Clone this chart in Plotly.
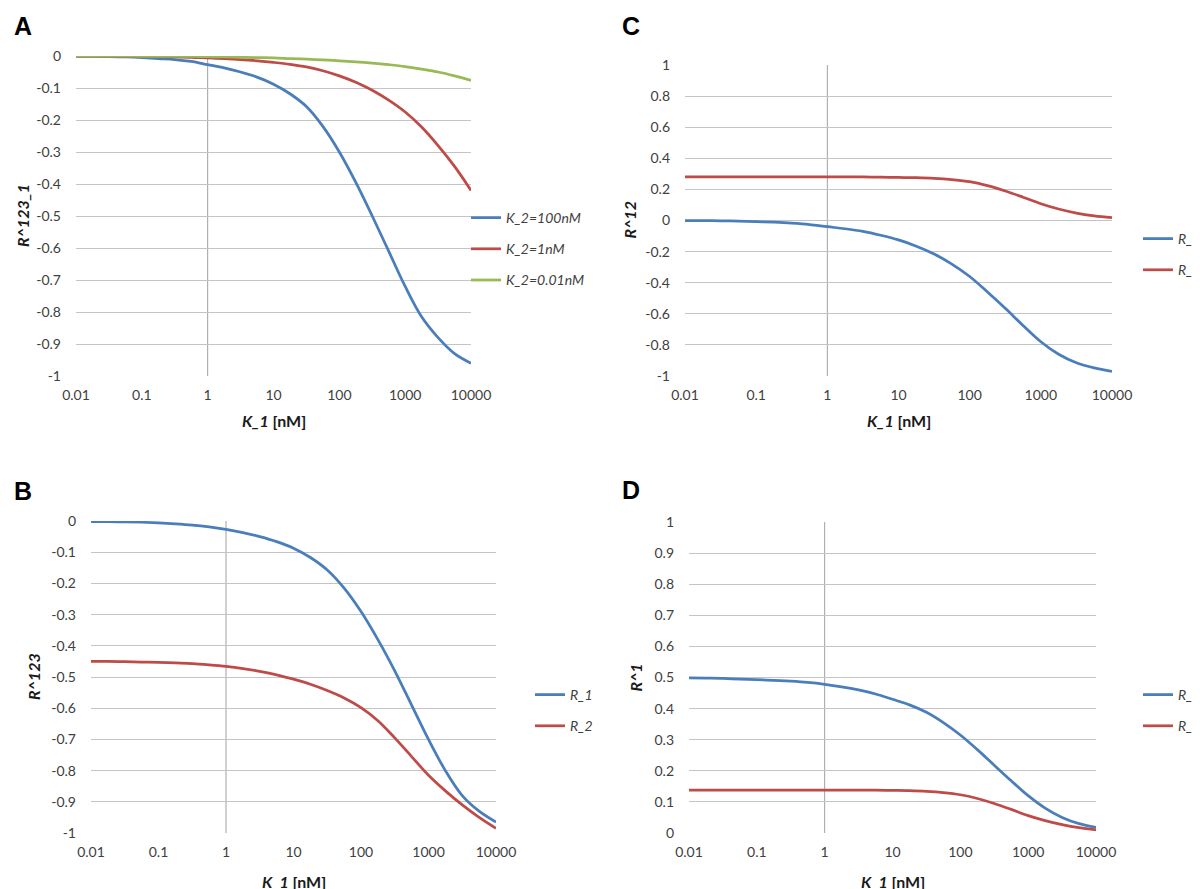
import plotly.graph_objects as go

# ---------------- data ----------------
# K_1 sampled every quarter decade from 0.01 to 10000 nM
K1 = [0.01, 0.0178, 0.0316, 0.0562, 0.1, 0.178, 0.316, 0.562, 1, 1.78, 3.16, 5.62,
      10, 17.8, 31.6, 56.2, 100, 178, 316, 562, 1000, 1778, 3162, 5623, 10000]
X_TICKVALS = [0.01, 0.1, 1, 10, 100, 1000, 10000]
X_TICKTEXT = ["0.01", "0.1", "1", "10", "100", "1000", "10000"]

# Panel A : R^123_1 for three K_2 values
A_NAMES = ["K_2=100nM", "K_2=1nM", "K_2=0.01nM"]
A_K2_100 = [-0.001, -0.0015, -0.002, -0.003, -0.005, -0.008, -0.011, -0.017, -0.027, -0.037, -0.05, -0.066,
            -0.088, -0.118, -0.158, -0.22, -0.30, -0.395, -0.50, -0.61, -0.72, -0.815, -0.88, -0.93, -0.96]
A_K2_1 = [0.0, 0.0, -0.0005, -0.001, -0.001, -0.002, -0.003, -0.004, -0.006, -0.008, -0.011, -0.015,
          -0.02, -0.026, -0.034, -0.046, -0.062, -0.082, -0.107, -0.138, -0.175, -0.222, -0.28, -0.345, -0.42]
A_K2_001 = [0.0, 0.0, 0.0, 0.0, -0.001, -0.001, -0.001, -0.0015, -0.002, -0.003, -0.004, -0.005,
            -0.006, -0.008, -0.01, -0.012, -0.015, -0.018, -0.022, -0.027, -0.033, -0.041, -0.05, -0.062, -0.076]
A_TICKVALS = [0, -0.1, -0.2, -0.3, -0.4, -0.5, -0.6, -0.7, -0.8, -0.9, -1]
A_TICKTEXT = ["0", "-0.1", "-0.2", "-0.3", "-0.4", "-0.5", "-0.6", "-0.7", "-0.8", "-0.9", "-1"]

# Panel C : R^12
C_R1 = [0.0, -0.001, -0.002, -0.004, -0.007, -0.011, -0.017, -0.026, -0.04, -0.053, -0.07, -0.095,
        -0.125, -0.165, -0.215, -0.28, -0.36, -0.46, -0.565, -0.675, -0.78, -0.86, -0.915, -0.948, -0.97]
C_R2 = [0.28, 0.28, 0.28, 0.28, 0.28, 0.28, 0.28, 0.28, 0.28, 0.28, 0.28, 0.279,
        0.277, 0.275, 0.271, 0.263, 0.25, 0.224, 0.19, 0.15, 0.108, 0.074, 0.048, 0.03, 0.018]
C_TICKVALS = [1, 0.8, 0.6, 0.4, 0.2, 0, -0.2, -0.4, -0.6, -0.8, -1]
C_TICKTEXT = ["1", "0.8", "0.6", "0.4", "0.2", "0", "-0.2", "-0.4", "-0.6", "-0.8", "-1"]

# Panel B : R^123
B_R1 = [-0.002, -0.002, -0.003, -0.004, -0.006, -0.009, -0.013, -0.019, -0.027, -0.037, -0.05, -0.066,
        -0.087, -0.117, -0.157, -0.215, -0.29, -0.38, -0.48, -0.59, -0.70, -0.80, -0.88, -0.93, -0.965]
B_R2 = [-0.45, -0.45, -0.451, -0.452, -0.453, -0.455, -0.457, -0.461, -0.466, -0.473, -0.482, -0.493,
        -0.507, -0.523, -0.543, -0.567, -0.598, -0.64, -0.695, -0.755, -0.815, -0.865, -0.91, -0.95, -0.985]
B_TICKVALS = A_TICKVALS
B_TICKTEXT = A_TICKTEXT

# Panel D : R^1
D_R1 = [0.499, 0.498, 0.497, 0.495, 0.493, 0.491, 0.488, 0.484, 0.478, 0.47, 0.46, 0.447,
        0.43, 0.412, 0.388, 0.355, 0.315, 0.268, 0.218, 0.168, 0.12, 0.08, 0.05, 0.03, 0.018]
D_R2 = [0.138, 0.138, 0.138, 0.138, 0.138, 0.138, 0.138, 0.138, 0.138, 0.138, 0.138, 0.138,
        0.137, 0.136, 0.134, 0.13, 0.123, 0.111, 0.095, 0.076, 0.056, 0.04, 0.027, 0.017, 0.01]
D_TICKVALS = [1, 0.9, 0.8, 0.7, 0.6, 0.5, 0.4, 0.3, 0.2, 0.1, 0]
D_TICKTEXT = ["1", "0.9", "0.8", "0.7", "0.6", "0.5", "0.4", "0.3", "0.2", "0.1", "0"]

R_NAMES = ["R_1", "R_2"]
AXIS_CROSS = 1  # vertical axis crosses the category axis at K_1 = 1

# ---------------- style / layout ----------------
W, H = 1200, 889
BLUE, RED, GREEN = "#4A7EBB", "#BE4B48", "#98B954"
GRID = "#c4c4c4"
TICKC = "#404040"
FONT = "Lato"


def fx(px):
    return px / W


def fy(py):
    return 1 - py / H


# pixel boxes of the four plot areas (left, right, top, bottom)
BOX = {
    "A": (68, 463, 48, 368),
    "C": (677, 1104, 57, 368),
    "B": (83, 488, 513, 825),
    "D": (681, 1088, 514, 825),
}
PANELS = [
    ("A", "", [-1, 0], A_TICKVALS, A_TICKTEXT, "R^123_1", "legend"),
    ("C", "2", [-1, 1], C_TICKVALS, C_TICKTEXT, "R^12", "legend2"),
    ("B", "3", [-1, 0], B_TICKVALS, B_TICKTEXT, "R^123", "legend3"),
    ("D", "4", [0, 1], D_TICKVALS, D_TICKTEXT, "R^1", "legend4"),
]

series = {
    "A": [(A_NAMES[0], A_K2_100, BLUE), (A_NAMES[1], A_K2_1, RED), (A_NAMES[2], A_K2_001, GREEN)],
    "C": [(R_NAMES[0], C_R1, BLUE), (R_NAMES[1], C_R2, RED)],
    "B": [(R_NAMES[0], B_R1, BLUE), (R_NAMES[1], B_R2, RED)],
    "D": [(R_NAMES[0], D_R1, BLUE), (R_NAMES[1], D_R2, RED)],
}

# legend: (left px of key line, centre y px of first item, gap between items)
LEG = {
    "A": (463, 208, 10),
    "C": (1135, 229, 10),
    "B": (527, 685, 10),
    "D": (1135, 685, 10),
}
LETTERS = {"A": (15, 18), "C": (623, 18), "B": (15, 483), "D": (623, 482)}
YTITLE_X = {"A": 15, "C": 621, "B": 25, "D": 627}
XTITLE_Y = {"A": 412, "C": 412, "B": 873, "D": 873}

fig = go.Figure()
layout = dict(
    width=W, height=H,
    margin=dict(l=0, r=0, t=0, b=0),
    paper_bgcolor="white", plot_bgcolor="white",
    font=dict(family=FONT, size=14, color=TICKC),
    annotations=[], shapes=[],
)

for key, sfx, yr, tv, tt, ytitle, leg in PANELS:
    x0, x1, yt, yb = BOX[key]
    xa = "x" + sfx
    ya = "y" + sfx
    for name, vals, col in series[key]:
        fig.add_trace(go.Scatter(
            x=K1, y=vals, mode="lines", name="<i>" + name + "</i>",
            line=dict(color=col, width=2.75, shape="spline", smoothing=1.0),
            xaxis=xa, yaxis=ya, legend=leg, legendgroup=key + name,
            hoverinfo="skip",
        ))
    layout["xaxis" + sfx] = dict(
        domain=[fx(x0), fx(x1)], anchor=ya, type="log", range=[-2, 4],
        tickvals=X_TICKVALS, ticktext=X_TICKTEXT,
        showgrid=False, zeroline=False, showline=False,
        ticks="", ticklabelstandoff=9, automargin=False,
        tickfont=dict(family=FONT, size=14, color=TICKC),
    )
    layout["yaxis" + sfx] = dict(
        domain=[fy(yb), fy(yt)], anchor=xa, range=yr,
        tickvals=tv, ticktext=tt,
        showgrid=True, gridcolor=GRID, gridwidth=1,
        zeroline=False, showline=False, ticks="",
        ticklabelstandoff=14, automargin=False,
        tickfont=dict(family=FONT, size=14, color=TICKC),
    )
    # vertical axis line at K_1 = 1
    layout["shapes"].append(dict(
        type="line", xref=xa, yref=ya + " domain", x0=AXIS_CROSS, x1=AXIS_CROSS, y0=0, y1=1,
        line=dict(color="#a0a0a0", width=1), layer="below",
    ))
    lx, ly, gap = LEG[key]
    layout[leg] = dict(
        x=fx(lx - 5), xanchor="left",
        y=fy(ly - 14), yanchor="top",
        bgcolor="rgba(0,0,0,0)", borderwidth=0,
        font=dict(family=FONT, size=14, color=TICKC),
        tracegroupgap=gap, itemwidth=30,
    )
    lx2, ly2 = LETTERS[key]
    layout["annotations"].append(dict(
        text="<b>" + key + "</b>", xref="paper", yref="paper",
        x=fx(lx2), y=fy(ly2), xanchor="center", yanchor="middle",
        showarrow=False, font=dict(family="Liberation Sans", size=25, color="black"),
    ))
    layout["annotations"].append(dict(
        text="<b><i>" + ytitle + "</i></b>", xref="paper", yref="paper",
        x=fx(YTITLE_X[key]), y=fy((yt + yb) / 2), xanchor="center", yanchor="middle",
        textangle=-90, showarrow=False, font=dict(family=FONT, size=16, color="#1a1a1a"),
    ))
    layout["annotations"].append(dict(
        text="<b><i>K_1</i> [nM]</b>", xref="paper", yref="paper",
        x=fx((x0 + x1) / 2), y=fy(XTITLE_Y[key]), xanchor="center", yanchor="middle",
        showarrow=False, font=dict(family=FONT, size=16, color="#1a1a1a"),
    ))

fig.update_layout(**layout)
fig.write_html("out.html")
